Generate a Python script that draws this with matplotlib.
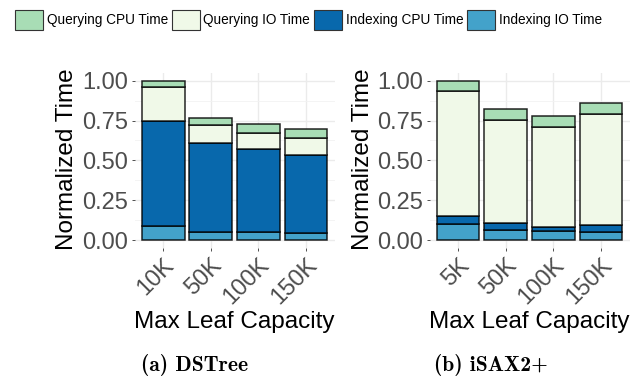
import matplotlib
matplotlib.use("Agg")
import matplotlib.pyplot as plt
import matplotlib.patches as mpatches
import numpy as np

# stacked components, bottom to top: indexing IO, indexing CPU, querying IO, querying CPU
dstree_caps = ['10K', '50K', '100K', '150K']
dstree_idx_io = [0.088, 0.052, 0.048, 0.044]
dstree_idx_cpu = [0.661, 0.555, 0.521, 0.492]
dstree_q_io = [0.209, 0.113, 0.105, 0.102]
dstree_q_cpu = [0.042, 0.048, 0.052, 0.059]

isax_caps = ['5K', '50K', '100K', '150K']
isax_idx_io = [0.098, 0.061, 0.054, 0.048]
isax_idx_cpu = [0.055, 0.048, 0.030, 0.044]
isax_q_io = [0.780, 0.642, 0.623, 0.699]
isax_q_cpu = [0.067, 0.071, 0.071, 0.071]

series_names = ['Indexing IO Time', 'Indexing CPU Time', 'Querying IO Time', 'Querying CPU Time']
colors = ['#43a2ca', '#0868ac', '#f0f9e8', '#a8ddb5']

plt.rcParams['font.family'] = ['Liberation Sans', 'DejaVu Sans']

W, H = 644, 377
fig = plt.figure(figsize=(W / 100, H / 100), dpi=100)


def panel(left_px, cats, parts):
    ax = fig.add_axes([left_px / W, 1 - 248 / H, 200 / W, 175.3 / H])
    x = np.arange(len(cats))
    bottom = np.zeros(len(cats))
    for vals, c in zip(parts, colors):
        ax.bar(x, vals, width=0.9, bottom=bottom, color=c,
               edgecolor=(0, 0, 0, 0.85), linewidth=1.1, zorder=3)
        bottom += np.array(vals)
    ax.set_xlim(-0.6, len(cats) - 0.4)
    ax.set_ylim(-0.05, 1.05)
    ax.set_yticks([0, 0.25, 0.5, 0.75, 1.0])
    ax.set_yticklabels(['0.00', '0.25', '0.50', '0.75', '1.00'])
    ax.set_yticks([0.125, 0.375, 0.625, 0.875], minor=True)
    ax.set_xticks(x)
    ax.set_xticklabels(cats, rotation=45, ha='right', rotation_mode='anchor')
    ax.grid(True, which='major', color='#ebebeb', linewidth=1.0, zorder=0)
    ax.grid(True, which='minor', axis='y', color='#f2f2f2', linewidth=0.6, zorder=0)
    for s in ax.spines.values():
        s.set_visible(False)
    ax.tick_params(axis='both', which='major', length=2.5, width=0.6, color='#333333',
                   labelsize=17, labelcolor='#4d4d4d', pad=2)
    ax.tick_params(axis='y', which='minor', length=0)
    return ax


panel(134.6, dstree_caps, [dstree_idx_io, dstree_idx_cpu, dstree_q_io, dstree_q_cpu])
panel(429.5, isax_caps, [isax_idx_io, isax_idx_cpu, isax_q_io, isax_q_cpu])

for xc in (67, 363):
    fig.text(xc / W, 1 - 159 / H, 'Normalized Time', rotation=90, ha='center',
             va='center', fontsize=17.5, color='black')
for xc in (234, 529):
    fig.text(xc / W, 1 - 322 / H, 'Max Leaf Capacity', ha='center', va='center',
             fontsize=17.5, color='black')

fig.text(195 / W, 1 - 365 / H, '(a) DSTree', ha='center', va='center',
         fontsize=15.5, family='cmb10')
fig.text(491 / W, 1 - 365 / H, '(b) iSAX2+', ha='center', va='center',
         fontsize=15.5, family='cmb10')

handles = [mpatches.Patch(facecolor=colors[i], edgecolor='#333333', linewidth=0.8,
                          label=series_names[i]) for i in (3, 2, 1, 0)]
fig.legend(handles=handles, ncol=4, loc='center left', bbox_to_anchor=(10 / W, 1 - 20 / H),
           frameon=False, handlelength=2.05, handleheight=1.97,
           handletextpad=0.25, columnspacing=0.3, borderaxespad=0,
           prop={'family': 'Liberation Sans', 'size': 9.8})

fig.savefig('out.png', dpi=100)
